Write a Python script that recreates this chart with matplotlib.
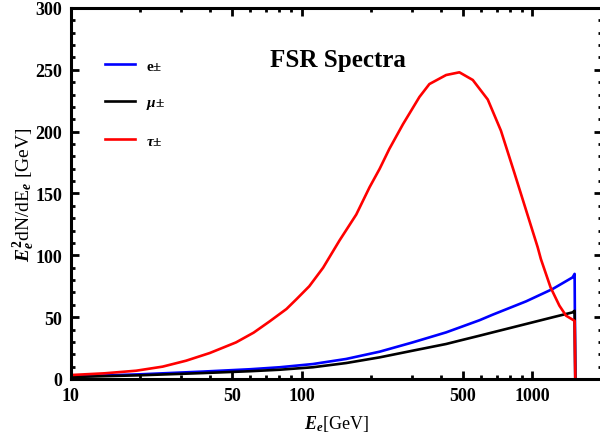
import matplotlib
matplotlib.use("Agg")
import matplotlib.pyplot as plt
from matplotlib.ticker import FixedLocator, FixedFormatter, MultipleLocator

plt.rcParams['font.family'] = ['Liberation Serif', 'DejaVu Serif']
plt.rcParams['font.weight'] = 'bold'
plt.rcParams['mathtext.fontset'] = 'custom'
plt.rcParams['mathtext.rm'] = 'Liberation Serif:bold'
plt.rcParams['mathtext.it'] = 'Liberation Serif:italic:bold'
plt.rcParams['mathtext.bf'] = 'Liberation Serif:bold'

# e+- spectrum
E_e = [10, 20, 37.4, 60, 80.4, 112, 156, 218, 303, 423, 483, 590, 673, 940, 1225, 1495, 1525, 1535]
y_e = [2.0, 3.8, 6.0, 7.9, 9.5, 12.1, 16.2, 22.1, 29.6, 37.7, 41.6, 47.5, 52.0, 62.8, 72.8, 82.2, 85.0, 0.0]

# mu+- spectrum
E_mu = [10, 20, 37.4, 60, 80.4, 112, 156, 218, 303, 423, 483, 590, 673, 940, 1225, 1495, 1525, 1535]
y_mu = [1.6, 3.0, 4.8, 6.3, 7.5, 9.5, 12.9, 17.5, 22.9, 28.3, 31.0, 35.0, 37.7, 44.5, 49.9, 53.9, 55.2, 0.0]

# tau+- spectrum
E_tau = [10, 14, 19.2, 25, 31.6, 40, 52, 62, 72.6, 86, 95, 108, 124, 146, 172.6, 197, 218,
         240, 275, 303, 324, 358, 423, 483, 552, 641, 731, 835, 1055, 1089, 1200, 1310,
         1400, 1495, 1525, 1535]
y_tau = [3.2, 4.6, 6.7, 10.0, 14.8, 21.0, 29.6, 37.5, 46.5, 56.6, 64.5, 75.0, 90.0, 112.0,
         133.0, 155.0, 170.0, 186.0, 206.0, 219.0, 228.0, 238.5, 245.8, 248.0, 241.8, 226.0,
         200.8, 167.0, 106.5, 97.0, 74.0, 59.3, 51.2, 48.0, 47.0, 0.0]

xmajor = [10, 50, 100, 500, 1000]
xminor = [20, 30, 40, 60, 70, 80, 90, 200, 300, 400, 600, 700, 800, 900]

fig = plt.figure(figsize=(6.0, 4.39), dpi=100)
ax = fig.add_axes([0.118, 0.1344, 0.885, 0.8451])

ax.plot(E_e, y_e, color='#0000ff', lw=1.9, label='e±')
ax.plot(E_mu, y_mu, color='black', lw=1.9, label=r'$\mu$±')
ax.plot(E_tau, y_tau, color='#ff0000', lw=1.9, label=r'$\tau$±')

ax.set_xscale('log')
ax.set_xlim(10, 2000)
ax.set_ylim(0, 300)
ax.xaxis.set_major_locator(FixedLocator(xmajor))
ax.xaxis.set_major_formatter(FixedFormatter([str(v) for v in xmajor]))
ax.xaxis.set_minor_locator(FixedLocator(xminor))
ax.xaxis.set_minor_formatter(FixedFormatter([''] * len(xminor)))
ax.yaxis.set_major_locator(MultipleLocator(50))
ax.yaxis.set_minor_locator(MultipleLocator(10))

ax.tick_params(which='both', direction='in', top=True, right=True, labelsize=13, pad=6)
ax.tick_params(which='major', length=6, width=2)
ax.tick_params(which='minor', length=3, width=2)
for s in ax.spines.values():
    s.set_linewidth(2.2)
ax.spines['right'].set_visible(False)

ax.set_xlabel(r'$E_e$[GeV]', fontsize=13, labelpad=6)
ax.set_ylabel(r'$E_e^2$dN/dE$_e$ [GeV]', fontsize=14)
ax.yaxis.set_label_coords(-0.063, 0.5)

ax.text(0.503, 0.862, 'FSR Spectra', transform=ax.transAxes, ha='center', va='center',
        fontsize=18, fontweight='bold')

ax.legend(loc='upper left', bbox_to_anchor=(0.064, 0.863), frameon=False, fontsize=11,
          handlelength=2.0, handletextpad=0.7, labelspacing=1.5, borderpad=0,
          borderaxespad=0)

fig.savefig('out.png', dpi=100)
